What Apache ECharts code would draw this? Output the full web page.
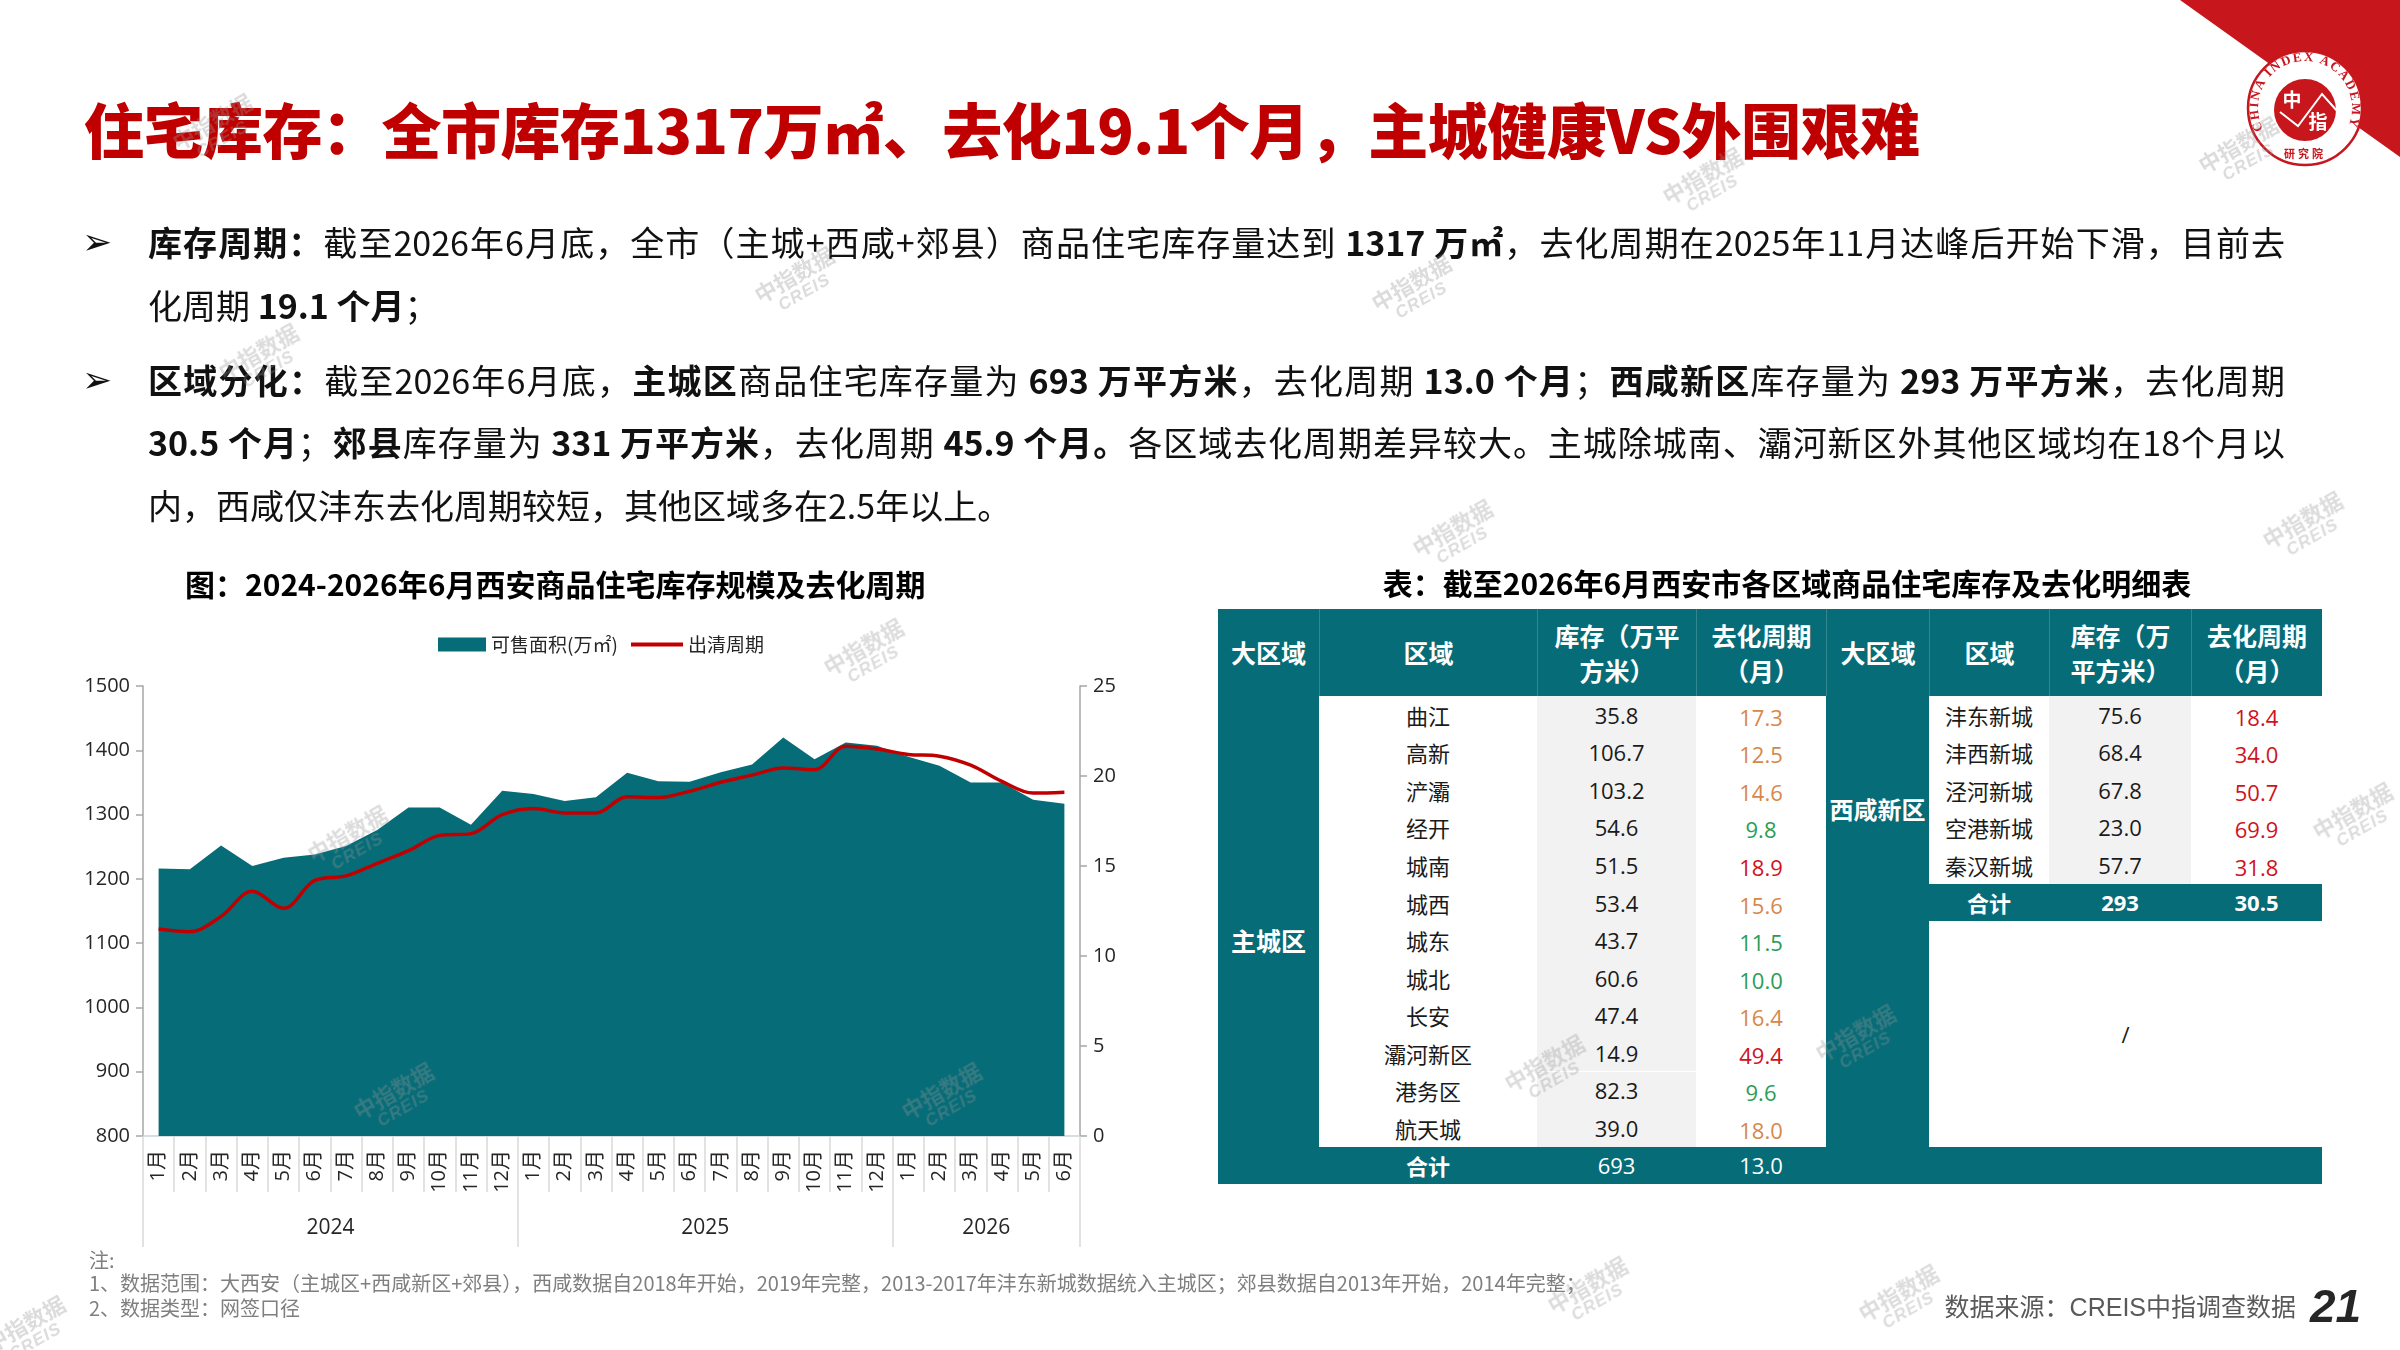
<!DOCTYPE html>
<html><head><meta charset="utf-8">
<script src="https://cdn.jsdelivr.net/npm/echarts@6/dist/echarts.min.js"></script>
<style>
html,body{margin:0;padding:0;background:#fff;}
#page{position:relative;width:2400px;height:1350px;overflow:hidden;background:#fff;font-family:'Open Sans','Noto Sans CJK SC',sans-serif;}
#chart{position:absolute;left:0;top:0;width:2400px;height:1350px;z-index:1;}
.abs{position:absolute;z-index:2;}
.title{left:84px;top:88px;font-size:60px;font-weight:900;color:#c00000;white-space:nowrap;line-height:80px;font-family:'Noto Sans CJK SC',sans-serif;letter-spacing:-0.5px;}
.line{left:148px;width:2137px;font-size:34px;line-height:62px;height:62px;color:#111;white-space:nowrap;font-family:'Noto Sans CJK SC',sans-serif;}
.just{text-align:justify;text-align-last:justify;}
.bullet{left:82px;font-size:36px;line-height:62px;height:62px;color:#111;font-family:'DejaVu Sans',sans-serif;}
b{font-weight:700;}
.cell{position:absolute;box-sizing:border-box;display:flex;align-items:center;justify-content:center;text-align:center;z-index:2;font-family:'Open Sans','Noto Sans CJK SC',sans-serif;}
.hdr{color:#fff;font-weight:700;font-size:25px;line-height:35px;font-family:'Noto Sans CJK SC',sans-serif;}
.body{font-size:22px;color:#1a1a1a;}
.tot{color:#fff;font-size:22px;}
.note{left:89px;font-size:20px;line-height:24px;color:#7f7f7f;white-space:nowrap;font-family:'Noto Sans CJK SC',sans-serif;}
.wm{position:absolute;z-index:3;color:rgba(150,150,150,0.33);transform:rotate(-30deg);text-align:center;line-height:22px;font-family:'Noto Sans CJK SC',sans-serif;font-weight:700;pointer-events:none;}
.wm span{display:block;font-size:17px;font-family:'Liberation Sans',sans-serif;font-style:italic;letter-spacing:1px;}
</style></head>
<body><div id="page">
<div id="chart"></div>
<svg class="abs" style="left:0;top:0;z-index:2" width="2400" height="200" viewBox="0 0 2400 200">
  <polygon points="2180,0 2400,0 2400,157" fill="#c8161d"/>
  <circle cx="2305" cy="108" r="57" fill="#fff" stroke="#c8161d" stroke-width="2.5"/>
  <defs><path id="ring" d="M 2264.3 131.5 A 47 47 0 1 1 2345.7 131.5"/></defs>
  <text font-family="'Liberation Serif',serif" font-size="13" font-weight="700" fill="#c8161d"><textPath href="#ring" startOffset="2" textLength="188" lengthAdjust="spacing">CHINA INDEX ACADEMY</textPath></text>
  <circle cx="2305" cy="110" r="31" fill="#c8161d"/>
  <text x="2292" y="107" font-family="'Noto Sans CJK SC'" font-size="19" font-weight="700" fill="#fff" text-anchor="middle">中</text>
  <text x="2318" y="129" font-family="'Noto Sans CJK SC'" font-size="19" font-weight="700" fill="#fff" text-anchor="middle">指</text>
  <polyline points="2280,112 2298,126 2322,94 2338,112" fill="none" stroke="#fff" stroke-width="2"/>
  <text x="2305" y="158" font-family="'Noto Sans CJK SC'" font-size="11" font-weight="700" fill="#c8161d" text-anchor="middle" letter-spacing="3">研究院</text>
</svg>
<div class="abs title">住宅库存：全市库存1317万㎡、去化19.1个月，主城健康VS外围艰难</div>

<div class="abs bullet" style="top:211px">➢</div>
<div class="abs line just" style="top:211px"><b>库存周期：</b>截至2026年6月底，全市（主城+西咸+郊县）商品住宅库存量达到 <b>1317 万㎡</b>，去化周期在2025年11月达峰后开始下滑，目前去</div>
<div class="abs line" style="top:274px">化周期 <b>19.1 个月</b>；</div>
<div class="abs bullet" style="top:349px">➢</div>
<div class="abs line just" style="top:349px"><b>区域分化：</b>截至2026年6月底，<b>主城区</b>商品住宅库存量为 <b>693 万平方米</b>，去化周期 <b>13.0 个月</b>；<b>西咸新区</b>库存量为 <b>293 万平方米</b>，去化周期</div>
<div class="abs line just" style="top:411px"><b>30.5 个月</b>；<b>郊县</b>库存量为 <b>331 万平方米</b>，去化周期 <b>45.9 个月。</b>各区域去化周期差异较大。主城除城南、灞河新区外其他区域均在18个月以</div>
<div class="abs line" style="top:474px">内，西咸仅沣东去化周期较短，其他区域多在2.5年以上。</div>

<div class="abs" id="tableTitle" style="left:1218px;width:1138px;top:561px;text-align:center;font-size:30px;font-weight:700;color:#000;line-height:42px;font-family:'Noto Sans CJK SC',sans-serif;white-space:nowrap;">表：截至2026年6月西安市各区域商品住宅库存及去化明细表</div>
<div id="table"></div>

<div class="abs note" style="top:1248px">注:</div>
<div class="abs note" style="top:1271px">1、数据范围：大西安（主城区+西咸新区+郊县），西咸数据自2018年开始，2019年完整，2013-2017年沣东新城数据统入主城区；郊县数据自2013年开始，2014年完整；</div>
<div class="abs note" style="top:1296px">2、数据类型：网签口径</div>
<div class="abs" style="right:104px;top:1290px;font-size:25px;line-height:34px;color:#595959;white-space:nowrap;font-family:'Liberation Sans','Noto Sans CJK SC',sans-serif;">数据来源：CREIS中指调查数据</div>
<div class="abs" style="left:2310px;top:1278px;font-size:46px;line-height:56px;font-weight:700;font-style:italic;color:#262626;font-family:'Liberation Sans',sans-serif;">21</div>
<div id="wms"></div>
</div>
<script>
// ---------- chart data ----------
const months = ['1月','2月','3月','4月','5月','6月','7月','8月','9月','10月','11月','12月',
                '1月','2月','3月','4月','5月','6月','7月','8月','9月','10月','11月','12月',
                '1月','2月','3月','4月','5月','6月'];
const years = ['2024','2025','2026'];
const yearSpans = [12, 12, 6];
const saleArea = [1216,1215,1252,1220,1233,1238,1251,1276,1311,1311,1284,1337,
                  1332,1321,1327,1365,1352,1351,1366,1378,1420,1386,1412,1407,
                  1390,1376,1350,1350,1323,1317];
const cycle = [11.5,11.35,12.2,13.6,12.65,14.2,14.45,15.15,15.85,16.7,16.8,17.85,
               18.2,17.95,17.95,18.85,18.8,19.15,19.65,20.05,20.45,20.35,21.65,21.5,
               21.2,21.1,20.6,19.7,19.05,19.1];
const leftTicks = {min:800, max:1500, interval:100};
const rightTicks = {min:0, max:25, interval:5};
const seriesNames = ['可售面积(万㎡)', '出清周期'];

// ---------- table data ----------
const tableHeaders = ['大区域','区域','库存（万平<br>方米）','去化周期<br>（月）','大区域','区域','库存（万<br>平方米）','去化周期<br>（月）'];
const mainRegion = '主城区';
const mainDistricts = ['曲江','高新','浐灞','经开','城南','城西','城东','城北','长安','灞河新区','港务区','航天城'];
const mainStock = [35.8,106.7,103.2,54.6,51.5,53.4,43.7,60.6,47.4,14.9,82.3,39.0];
const mainCycle = [17.3,12.5,14.6,9.8,18.9,15.6,11.5,10.0,16.4,49.4,9.6,18.0];
const mainTotal = ['合计', '693', '13.0'];
const xxRegion = '西咸新区';
const xxDistricts = ['沣东新城','沣西新城','泾河新城','空港新城','秦汉新城'];
const xxStock = [75.6,68.4,67.8,23.0,57.7];
const xxCycle = [18.4,34.0,50.7,69.9,31.8];
const xxTotal = ['合计', '293', '30.5'];

// ---------- styles ----------
const TEAL = '#066c78';
const RED = '#c00000';
const FONT = "'Open Sans','Noto Sans CJK SC',sans-serif";
const AXIS = '#a6a6a6';

// ---------- chart ----------
const totalMonths = yearSpans.reduce((a,b)=>a+b,0);
const yearBounds = [0];
yearSpans.forEach(s => yearBounds.push(yearBounds[yearBounds.length-1] + s));
const yearCenters = years.map((y,i) => (yearBounds[i] + yearBounds[i+1]) / 2);

const chart = echarts.init(document.getElementById('chart'), null, {renderer:'canvas'});
const legendText = {fontSize:19, color:'#262626', fontFamily:"'Noto Sans CJK SC',sans-serif"};
chart.setOption({
  animation:false,
  textStyle:{fontFamily:FONT},
  title:{
    text:'图：2024-2026年6月西安商品住宅库存规模及去化周期',
    left:180, top:565,
    textStyle:{fontSize:30, fontWeight:'bold', color:'#000', fontFamily:"'Noto Sans CJK SC',sans-serif"}
  },
  legend:[
    {
      left:433, top:630, itemWidth:48, itemHeight:14, textStyle:legendText,
      data:[{name:seriesNames[0], icon:'rect'}]
    },
    {
      left:626, top:630, itemWidth:52, itemHeight:4, textStyle:legendText,
      data:[{name:seriesNames[1], icon:'rect'}]
    }
  ],
  grid:{left:143, right:1320, top:686, bottom:214, containLabel:false},
  xAxis:[
    {
      type:'category', data:months, position:'bottom', boundaryGap:true,
      axisLine:{show:true, lineStyle:{color:'#c8d3d6', width:1.5}},
      axisTick:{show:true, interval:0, length:56, lineStyle:{color:'#d9d9d9', width:1.5}},
      axisLabel:{interval:0, rotate:90, margin:14, fontSize:20, color:'#262626'},
      splitLine:{show:false}
    },
    {
      type:'value', min:0, max:totalMonths, position:'bottom',
      axisLine:{show:false}, splitLine:{show:false},
      axisTick:{show:true, customValues:yearBounds, length:111, lineStyle:{color:'#d9d9d9', width:1.5}},
      axisLabel:{customValues:yearCenters, margin:82, fontSize:21, color:'#262626',
                 formatter:v => years[yearCenters.indexOf(v)] || ''}
    }
  ],
  yAxis:[
    {
      type:'value', position:'left', min:leftTicks.min, max:leftTicks.max, interval:leftTicks.interval,
      axisLine:{show:true, lineStyle:{color:AXIS, width:1.5}},
      axisTick:{show:true, length:7, lineStyle:{color:AXIS, width:1.5}},
      axisLabel:{fontSize:20, color:'#262626', margin:13, formatter:v => String(v)},
      splitLine:{show:false}
    },
    {
      type:'value', position:'right', min:rightTicks.min, max:rightTicks.max, interval:rightTicks.interval,
      axisLine:{show:true, lineStyle:{color:AXIS, width:1.5}},
      axisTick:{show:true, length:7, lineStyle:{color:AXIS, width:1.5}},
      axisLabel:{fontSize:20, color:'#262626', margin:13, formatter:v => String(v)},
      splitLine:{show:false}
    }
  ],
  series:[
    {
      name:seriesNames[0], type:'line', data:saleArea, xAxisIndex:0, yAxisIndex:0,
      symbol:'none', showSymbol:false, lineStyle:{width:0, color:TEAL},
      itemStyle:{color:TEAL}, areaStyle:{color:TEAL, opacity:1, origin:'start'}, z:1
    },
    {
      name:seriesNames[1], type:'line', data:cycle, xAxisIndex:0, yAxisIndex:1,
      symbol:'none', showSymbol:false, smooth:0.35,
      lineStyle:{width:3.5, color:RED}, itemStyle:{color:RED}, z:3
    }
  ]
});

// ---------- table (HTML built from arrays) ----------
const colX = [1218,1319,1537,1696,1826,1929,2049,2191,2322];
const hdrTop = 609, hdrBot = 696, rowH = 37.55;
const rowY = i => hdrBot + i * rowH;
const tbl = document.getElementById('table');
function cell(x0,x1,y0,y1,html,cls,style){
  const d = document.createElement('div');
  d.className = 'cell ' + (cls||'');
  d.style.left = x0+'px'; d.style.top = y0+'px';
  d.style.width = (x1-x0)+'px'; d.style.height = (y1-y0)+'px';
  if (style) Object.assign(d.style, style);
  d.innerHTML = html;
  tbl.appendChild(d);
  return d;
}
function cycleColor(v){ return v > 18 ? '#d0121b' : (v >= 12 ? '#d8874a' : '#2a9d55'); }
// header
tableHeaders.forEach((h,i)=>{
  cell(colX[i], colX[i+1], hdrTop, hdrBot, h, 'hdr',
       {background:TEAL, borderLeft: i>0 ? '1px solid rgba(255,255,255,0.18)' : 'none'});
});
const nMain = mainDistricts.length;
const nXX = xxDistricts.length;
// left group column
cell(colX[0], colX[1], hdrBot, rowY(nMain+1), mainRegion, 'hdr', {background:TEAL});
mainDistricts.forEach((d,i)=>{
  cell(colX[1], colX[2], rowY(i), rowY(i+1), d, 'body', {background:'#fff'});
  cell(colX[2], colX[3], rowY(i), rowY(i+1), mainStock[i].toFixed(1), 'body', {background:'#f2f2f2'});
  cell(colX[3], colX[4], rowY(i), rowY(i+1), mainCycle[i].toFixed(1), 'body', {background:'#fff', color:cycleColor(mainCycle[i]), paddingTop:'4px'});
});
cell(colX[1], colX[2], rowY(nMain), rowY(nMain+1), mainTotal[0], 'hdr', {background:TEAL, fontSize:'22px'});
cell(colX[2], colX[3], rowY(nMain), rowY(nMain+1), mainTotal[1], 'tot', {background:TEAL});
cell(colX[3], colX[4], rowY(nMain), rowY(nMain+1), mainTotal[2], 'tot', {background:TEAL});
// right group column
cell(colX[4], colX[5], hdrBot, rowY(nMain+1), '', '', {background:TEAL});
cell(colX[4], colX[5], hdrBot, rowY(nXX+1), xxRegion, 'hdr', {background:'transparent', fontSize:'24px'});
xxDistricts.forEach((d,i)=>{
  cell(colX[5], colX[6], rowY(i), rowY(i+1), d, 'body', {background:'#fff'});
  cell(colX[6], colX[7], rowY(i), rowY(i+1), xxStock[i].toFixed(1), 'body', {background:'#f2f2f2'});
  cell(colX[7], colX[8], rowY(i), rowY(i+1), xxCycle[i].toFixed(1), 'body', {background:'#fff', color:cycleColor(xxCycle[i]), paddingTop:'4px'});
});
cell(colX[5], colX[6], rowY(nXX), rowY(nXX+1), xxTotal[0], 'hdr', {background:TEAL, fontSize:'22px'});
cell(colX[6], colX[7], rowY(nXX), rowY(nXX+1), xxTotal[1], 'hdr', {background:TEAL, fontSize:'22px', fontFamily:FONT});
cell(colX[7], colX[8], rowY(nXX), rowY(nXX+1), xxTotal[2], 'hdr', {background:TEAL, fontSize:'22px', fontFamily:FONT});
cell(colX[5], colX[8], rowY(nXX+1), rowY(nMain), '/', 'body', {background:'#fff'});
cell(colX[5], colX[8], rowY(nMain), rowY(nMain+1), '', '', {background:TEAL});

// ---------- watermarks ----------
const wmPos = [[217,130],[1707,184],[2243,153],[799,283],[1416,291],[263,360],[1457,536],[2307,528],
               [868,655],[352,842],[2357,819],[398,1099],[946,1099],[1549,1071],[1860,1041],
               [1592,1293],[1903,1301],[30,1332]];
const wms = document.getElementById('wms');
wmPos.forEach(p=>{
  const d = document.createElement('div');
  d.className = 'wm';
  d.style.left = (p[0]-45)+'px'; d.style.top = (p[1]-22)+'px';
  d.style.fontSize = '22px'; d.style.width = '90px';
  d.innerHTML = '中指数据<span>CREIS</span>';
  wms.appendChild(d);
});
</script>
</body></html>
